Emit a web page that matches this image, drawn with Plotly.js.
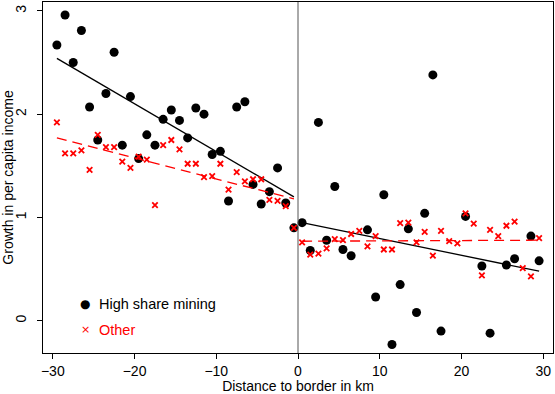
<!DOCTYPE html>
<html><head><meta charset="utf-8">
<script src="https://cdn.plot.ly/plotly-3.0.1.min.js"></script>
<style>html,body{margin:0;padding:0;background:#fff}#c{width:555px;height:394px}</style>
</head><body><div id="c"></div>
<script>
// bin centres (km from border)
const xLeft = [-29.5,-28.5,-27.5,-26.5,-25.5,-24.5,-23.5,-22.5,-21.5,-20.5,-19.5,-18.5,-17.5,-16.5,-15.5,-14.5,-13.5,-12.5,-11.5,-10.5,-9.5,-8.5,-7.5,-6.5,-5.5,-4.5,-3.5,-2.5,-1.5,-0.5];
const xRight = [0.5,1.5,2.5,3.5,4.5,5.5,6.5,7.5,8.5,9.5,10.5,11.5,12.5,13.5,14.5,15.5,16.5,17.5,18.5,19.5,20.5,21.5,22.5,23.5,24.5,25.5,26.5,27.5,28.5,29.5];

// High share mining
const miningLeft = [2.67,2.96,2.50,2.81,2.07,1.75,2.20,2.60,1.70,2.17,1.57,1.80,1.70,1.95,2.04,1.94,1.77,2.06,2.00,1.61,1.64,1.16,2.07,2.12,1.32,1.13,1.25,1.48,1.14,0.90];
const miningRight = [0.95,0.68,1.92,0.78,1.30,0.69,0.63,null,0.88,0.23,1.22,-0.23,0.35,0.89,0.08,1.04,2.38,-0.10,null,null,1.01,null,0.53,-0.12,null,0.54,0.60,null,0.82,0.58];

// Other
const otherLeft = [1.92,1.62,1.62,1.65,1.46,1.80,1.68,1.68,1.54,1.48,1.59,1.56,1.12,1.70,1.75,1.66,1.52,1.52,1.39,1.40,1.52,1.27,1.44,1.35,1.37,1.37,1.17,1.16,1.11,0.90];
const otherRight = [0.76,0.64,0.65,0.70,0.79,0.78,0.84,0.87,0.72,0.82,0.69,0.69,0.945,0.95,0.76,0.86,0.63,0.87,0.77,0.75,1.04,0.94,0.44,0.88,0.82,0.92,0.96,0.51,0.43,0.80];

// fitted lines (endpoints at first/last bin centre on each side)
const fitXLeft = [-29.5, -0.5];
const fitXRight = [0.5, 29.5];
const fitMiningLeft = [2.54, 1.20];
const fitMiningRight = [0.95, 0.48];
const fitOtherLeft = [1.77, 1.18];
const fitOtherRight = [0.77, 0.78];

const borderX = 0;
const xTicks = [-30,-20,-10,0,10,20,30];
const yTicks = [0,1,2,3];
const seriesNames = ['High share mining', 'Other'];
const seriesColors = ['#000000', '#ff0000'];
const legendSymbols = ['\u25CF', '\u00D7'];

const blackMarker = {color:seriesColors[0], size:9, symbol:'circle'};
const redMarker = {color:seriesColors[1], size:5.5, symbol:'x-thin', line:{color:seriesColors[1], width:1.8}};

const traces = [
  {x:xLeft, y:miningLeft, mode:'markers', type:'scatter', marker:blackMarker, name:seriesNames[0]},
  {x:xRight, y:miningRight, mode:'markers', type:'scatter', marker:blackMarker, name:seriesNames[0]},
  {x:fitXLeft, y:fitMiningLeft, mode:'lines', type:'scatter', line:{color:seriesColors[0], width:1.3}},
  {x:fitXRight, y:fitMiningRight, mode:'lines', type:'scatter', line:{color:seriesColors[0], width:1.3}},
  {x:fitXLeft, y:fitOtherLeft, mode:'lines', type:'scatter', line:{color:seriesColors[1], width:1.3, dash:'10px,6px'}},
  {x:fitXRight, y:fitOtherRight, mode:'lines', type:'scatter', line:{color:seriesColors[1], width:1.3, dash:'10px,6px'}},
  {x:xLeft, y:otherLeft, mode:'markers', type:'scatter', marker:redMarker, name:seriesNames[1]},
  {x:xRight, y:otherRight, mode:'markers', type:'scatter', marker:redMarker, name:seriesNames[1]}
];

const fam = '"Liberation Sans", Arial, Helvetica, sans-serif';
const font = {family:fam, size:14, color:'#000'};

// legend drawn as text annotations inside the plot area
const legendRowsY = [0.14, 0.066];
const annotations = [];
seriesNames.forEach((nm, i) => {
  annotations.push({xref:'paper', yref:'paper', x:0.0824, y:legendRowsY[i], xanchor:'center', yanchor:'middle',
    text:legendSymbols[i], showarrow:false, font:{family:'"DejaVu Sans", sans-serif', size: i===0 ? 12 : 11, color:seriesColors[i]}});
  annotations.push({xref:'paper', yref:'paper', x:0.105, y:legendRowsY[i], xanchor:'left', yanchor:'middle',
    text:nm, showarrow:false, font:{family:fam, size:14.5, color:seriesColors[i]}});
});

const layout = {
  width:555, height:394,
  margin:{l:43, r:2, t:2, b:41},
  paper_bgcolor:'#fff', plot_bgcolor:'#fff',
  font:font,
  showlegend:false,
  annotations:annotations,
  xaxis:{range:[-31.2,31.2], tickvals:xTicks, ticks:'outside', ticklen:5, tickcolor:'#000', showgrid:false, zeroline:false,
         showline:true, linecolor:'#000', linewidth:1, mirror:true, tickfont:font, ticklabelstandoff:0,
         title:{text:'Distance to border in km', font:font, standoff:0}},
  yaxis:{range:[-0.312,3.086], tickvals:yTicks, ticks:'outside', ticklen:5, tickcolor:'#000', showgrid:false, zeroline:false,
         showline:true, linecolor:'#000', linewidth:1, mirror:true, tickfont:font, tickangle:-90, ticklabelstandoff:5,
         title:{text:'Growth in per capita income', font:font, standoff:3}},
  shapes:[{type:'line', xref:'x', yref:'paper', x0:borderX, x1:borderX, y0:0, y1:1, line:{color:'#555', width:1}}]
};

Plotly.newPlot('c', traces, layout, {staticPlot:true, displayModeBar:false});
</script></body></html>
